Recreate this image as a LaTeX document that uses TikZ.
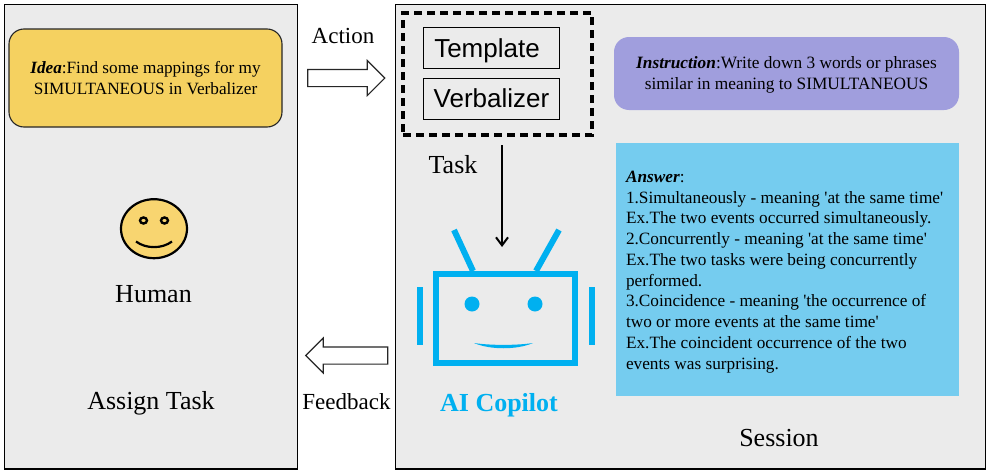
\documentclass[tikz,border=0pt]{standalone}
\usepackage{fontspec}
\usepackage{xcolor}
\usepackage{tikz}
\usetikzlibrary{positioning,arrows.meta,shapes.arrows,shapes.geometric}
\setmainfont{Liberation Serif}
\newfontfamily\labelsans{Liberation Sans}
\definecolor{panelgray}{HTML}{EBEBEB}
\definecolor{ideayellow}{HTML}{F5D160}
\definecolor{faceyellow}{HTML}{F8D570}
\definecolor{instrpurple}{HTML}{A09EDD}
\definecolor{answerblue}{HTML}{75CCEF}
\definecolor{robotblue}{HTML}{00B0F0}
\newcommand{\sq}{\textquotesingle}
\begin{document}
\begin{tikzpicture}[x=1pt,y=-1pt,
  panel/.style={draw=black,fill=panelgray,line width=1.2pt,minimum width=#1,minimum height=464.5pt,inner sep=0pt},
  hollowarrow/.style={draw=black!85,fill=white,line width=1.1pt,single arrow,single arrow tip angle=90,single arrow head extend=9pt,single arrow head indent=0pt,inner xsep=0pt,inner ysep=8pt,minimum height=#1},
  caption/.style={font=\fontsize{26}{28}\selectfont},
  wordbox/.style={draw=black,line width=0.9pt,minimum width=136pt,minimum height=41pt,inner sep=0pt,text height=21pt,text depth=3pt,font=\labelsans\fontsize{26}{30}\selectfont},
  robotline/.style={draw=robotblue,line width=6pt}]
\useasboundingbox (0,0) rectangle (989,474);
% the two panels
\node[panel=293pt] (human) at (151,236.75) {};
\node[panel=590pt] (session) at (690.5,236.75) {};
% left panel
\node[draw=black!85,fill=ideayellow,line width=1.1pt,rounded corners=15pt,minimum width=273pt,minimum height=98pt,align=center,font=\fontsize{17.2}{20.5}\selectfont] (idea) at (145.5,78)
  {\textbf{\textit{Idea}}:Find some mappings for my\\SIMULTANEOUS in Verbalizer};
\node[draw=black,fill=faceyellow,line width=2.2pt,ellipse,minimum width=66pt,minimum height=59pt,inner sep=0pt] (face) at (154,228.7) {};
\foreach \i in {-1,1} {
  \draw[line width=2.4pt,fill=faceyellow] (154+\i*10.5,220.5) ellipse (3.5 and 3);
}
\draw[line width=2.2pt] (136,241.5) .. controls (146,249) and (162,249) .. (172,241.5);
\node[caption] (humanlabel) at (153.5,294) {Human};
\node[caption] (assign) at (151,403) {Assign Task};
% arrows between panels
\node[hollowarrow=77pt] (action) at (342,78) {};
\node[hollowarrow=82pt,shape border rotate=180] (feedback) at (351,355.5) {};
\node[font=\fontsize{23}{26}\selectfont] (actionlabel) at (343,36) {Action};
\node[font=\fontsize{23}{26}\selectfont] (feedbacklabel) at (346.5,402) {Feedback};
% right panel
\node[draw=black,dashed,line width=3.2pt,dash pattern=on 8pt off 5pt,minimum width=189pt,minimum height=122pt,inner sep=0pt] (dashbox) at (497.5,74) {};
\node[wordbox] (template) at (491.5,48) {Template\hspace*{9pt}};
\node[wordbox,below=9pt of template] (verbalizer) {Verbalizer};
\node[fill=instrpurple,rounded corners=15pt,minimum width=345pt,minimum height=73pt] (instruction) at (786.5,73.5) {};
\node[align=center,font=\fontsize{17.3}{21}\selectfont] (instructiontext) at (786.5,74.5)
  {\textbf{\textit{Instruction}}:Write down 3 words or phrases\\similar in meaning to SIMULTANEOUS};
\node[fill=answerblue,minimum width=343pt,minimum height=253pt,inner sep=0pt] (answer) at (787.5,269.5) {};
\node[anchor=west,align=left,font=\fontsize{17.25}{20.75}\selectfont] (answertext) at (622.5,272) {\textbf{\textit{Answer}}:\\
1.Simultaneously - meaning \sq at the same time\sq\\
Ex.The two events occurred simultaneously.\\
2.Concurrently - meaning \sq at the same time\sq\\
Ex.The two tasks were being concurrently\\
performed.\\
3.Coincidence - meaning \sq the occurrence of\\
two or more events at the same time\sq\\
Ex.The coincident occurrence of the two\\
events was surprising.};
\node[caption] (sessionlabel) at (779,438) {Session};
\node[caption] (tasklabel) at (453,165) {Task};
% robot
\node[robotline,minimum width=139pt,minimum height=89pt,inner sep=0pt] (robot) at (505.5,318.5) {};
\coordinate (taskstart) at (502,145);
\coordinate (taskend) at (502,247);
\draw[-{Straight Barb[length=8pt,width=12pt]},line width=2pt] (taskstart) -- (taskend);
\draw[robotline] (454,230) -- (473,271);
\draw[robotline] (559,230) -- (536,271);
\foreach \i in {420,592} {
  \draw[robotline] (\i,287) -- (\i,345);
}
\foreach \i in {472,535} {
  \fill[robotblue] (\i,304) circle (7.5);
}
\fill[robotblue] (474,343) .. controls (490,350) and (517,350) .. (533,343) .. controls (517,345.5) and (490,345.5) .. (474,343);
\node[text=robotblue,font=\bfseries\fontsize{26}{28}\selectfont] (copilot) at (499,405) {AI Copilot};
\end{tikzpicture}
\end{document}
